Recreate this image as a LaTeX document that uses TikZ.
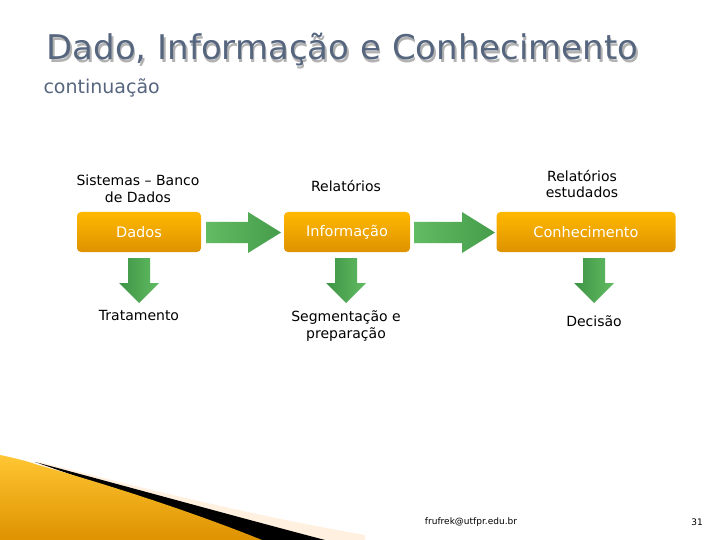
\documentclass[tikz,border=0pt]{standalone}
\usepackage{fontspec}
\setmainfont{DejaVu Sans}
\definecolor{ttl}{HTML}{56667F}
\definecolor{obot}{HTML}{DE9200}
\definecolor{otop}{HTML}{FFB800}
\definecolor{gA}{HTML}{62BC62}
\definecolor{gB}{HTML}{3E9446}
\begin{document}
\begin{tikzpicture}[x=1pt,y=-1pt,
 obox/.style={rounded corners=4pt,top color=otop,bottom color=obot,draw=none,text=white,font=\fontsize{14.5}{16}\selectfont},
 lbl/.style={font=\fontsize{14}{16.5}\selectfont,align=center}]
\useasboundingbox (0,0) rectangle (720,540);
\fill[white] (0,0) rectangle (720,540);
% swoosh
\fill[orange!12] (40,462) .. controls (150,490) and (250,515) .. (365,535) -- (365,540) -- (40,540) -- cycle;
\fill[black] (35,462) .. controls (140,490) and (230,515) .. (325,540) -- (260,540) -- cycle;
\shade[top color=otop!80,bottom color=obot] (0,455) .. controls (15,458) and (30,462) .. (38,465) .. controls (120,488) and (200,515) .. (262,540) -- (0,540) -- cycle;
% title
\node[anchor=west,text=black!30,font=\fontsize{34}{38}\selectfont] at (44.5,52.5) {Dado, Informação e Conhecimento};
\node[anchor=west,text=ttl,font=\fontsize{34}{38}\selectfont] (title) at (43,50) {Dado, Informação e Conhecimento};
\node[anchor=west,text=ttl,font=\fontsize{19}{21}\selectfont] (sub) at (40,88) {continuação};
% boxes
\node[obox,minimum width=124pt,minimum height=40pt] (dados) at (139,232) {Dados};
\node[obox,minimum width=126pt,minimum height=40pt] (info) at (347,232) {Informação};
\node[obox,minimum width=179pt,minimum height=40pt] (conh) at (586,232) {Conhecimento};
% horizontal arrows
\foreach \a/\b in {206/281,414/495}{
 \shade[left color=gA,right color=gB!80!gA] (\a,222) -- (\b-33,222) -- (\b-33,212) -- (\b,232.5) -- (\b-33,253) -- (\b-33,243) -- (\a,243) -- cycle;}
% down arrows
\foreach \c in {139,346,594}{
 \shade[left color=gB,right color=gA] (\c-11,258) -- (\c+11,258) -- (\c+11,283) -- (\c+20,283) -- (\c,303) -- (\c-20,283) -- (\c-11,283) -- cycle;}
% labels
\node[lbl] (l1) at (138,189) {Sistemas – Banco\\de Dados};
\node[lbl] (l2) at (346,186) {Relatórios};
\node[lbl] (l3) at (582,184) {Relatórios\\estudados};
\node[lbl] (l4) at (139,315) {Tratamento};
\node[lbl] (l5) at (346,326) {Segmentação e\\preparação};
\node[lbl] (l6) at (594,321) {Decisão};
\node[font=\fontsize{9}{10}\selectfont] (mail) at (471,522) {frufrek@utfpr.edu.br};
\node[font=\fontsize{9}{10}\selectfont] (pg) at (697,522) {31};
\end{tikzpicture}
\end{document}
